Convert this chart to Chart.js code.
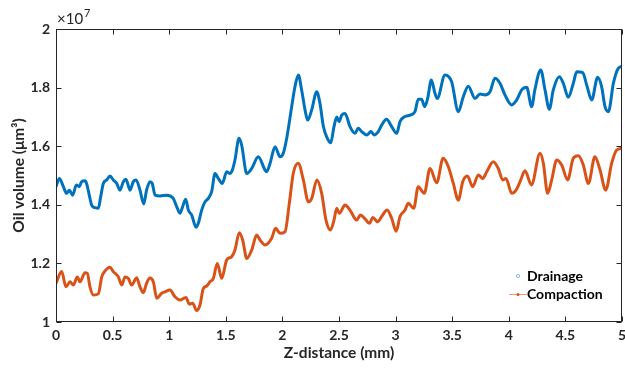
<!DOCTYPE html>
<html>
<head>
<meta charset="utf-8">
<script src="https://cdn.jsdelivr.net/npm/chart.js@4.4.1/dist/chart.umd.min.js"></script>
<style>
  html, body { margin: 0; padding: 0; background: #fff; }
</style>
</head>
<body>
<canvas id="chart" width="625" height="371"></canvas>
<script>
// values in units of 1e7 (um^3), x in mm
const drainageX = [0.000, 0.030, 0.065, 0.094, 0.118, 0.147, 0.180, 0.206, 0.227, 0.256, 0.270, 0.294, 0.315, 0.345, 0.374, 0.395, 0.418, 0.448, 0.477, 0.506,
  0.536, 0.565, 0.595, 0.618, 0.654, 0.683, 0.707, 0.742, 0.775, 0.800, 0.830, 0.850, 0.875, 0.919, 0.978, 1.036, 1.066, 1.095, 1.119, 1.146,
  1.169, 1.199, 1.237, 1.257, 1.287, 1.316, 1.346, 1.375, 1.405, 1.434, 1.469, 1.508, 1.537, 1.558, 1.581, 1.617, 1.640, 1.685, 1.729, 1.787,
  1.846, 1.861, 1.890, 1.935, 1.979, 2.008, 2.038, 2.082, 2.111, 2.141, 2.170, 2.200, 2.223, 2.259, 2.303, 2.332, 2.362, 2.397, 2.427, 2.456,
  2.480, 2.500, 2.524, 2.553, 2.597, 2.641, 2.670, 2.700, 2.745, 2.782, 2.810, 2.847, 2.877, 2.920, 2.965, 3.010, 3.039, 3.083, 3.127, 3.171,
  3.200, 3.230, 3.256, 3.283, 3.316, 3.348, 3.368, 3.436, 3.495, 3.554, 3.598, 3.642, 3.701, 3.746, 3.790, 3.834, 3.878, 3.922, 3.966, 4.026,
  4.070, 4.114, 4.158, 4.202, 4.230, 4.282, 4.320, 4.358, 4.393, 4.446, 4.481, 4.526, 4.570, 4.600, 4.653, 4.688, 4.732, 4.785, 4.820, 4.850,
  4.880, 4.924, 4.967, 5.000];
const drainageY = [1.462, 1.490, 1.462, 1.439, 1.450, 1.433, 1.468, 1.462, 1.479, 1.482, 1.473, 1.433, 1.399, 1.390, 1.388, 1.428, 1.473, 1.485, 1.498, 1.485,
  1.473, 1.450, 1.479, 1.487, 1.450, 1.479, 1.485, 1.450, 1.403, 1.450, 1.479, 1.473, 1.433, 1.430, 1.433, 1.422, 1.394, 1.371, 1.394, 1.419,
  1.382, 1.365, 1.323, 1.337, 1.382, 1.410, 1.422, 1.445, 1.507, 1.490, 1.473, 1.513, 1.507, 1.519, 1.553, 1.627, 1.604, 1.507, 1.524, 1.564,
  1.519, 1.513, 1.540, 1.598, 1.564, 1.576, 1.627, 1.735, 1.803, 1.843, 1.792, 1.724, 1.689, 1.724, 1.786, 1.746, 1.667, 1.627, 1.612, 1.667,
  1.700, 1.684, 1.706, 1.712, 1.667, 1.644, 1.661, 1.650, 1.638, 1.650, 1.638, 1.650, 1.672, 1.692, 1.667, 1.644, 1.684, 1.701, 1.706, 1.718,
  1.760, 1.760, 1.735, 1.763, 1.826, 1.780, 1.763, 1.843, 1.820, 1.718, 1.769, 1.805, 1.763, 1.778, 1.775, 1.786, 1.832, 1.815, 1.775, 1.741,
  1.758, 1.792, 1.801, 1.735, 1.792, 1.860, 1.792, 1.726, 1.792, 1.837, 1.815, 1.767, 1.815, 1.854, 1.851, 1.809, 1.758, 1.835, 1.803, 1.735,
  1.718, 1.815, 1.866, 1.872];

const compactionX = [0.000, 0.050, 0.088, 0.124, 0.153, 0.188, 0.212, 0.256, 0.277, 0.300, 0.330, 0.374, 0.404, 0.433, 0.477, 0.506, 0.551, 0.580, 0.610, 0.639,
  0.668, 0.713, 0.742, 0.771, 0.800, 0.830, 0.860, 0.890, 0.933, 0.963, 1.007, 1.051, 1.095, 1.148, 1.178, 1.207, 1.243, 1.272, 1.301, 1.331,
  1.360, 1.390, 1.425, 1.464, 1.508, 1.552, 1.581, 1.619, 1.649, 1.685, 1.729, 1.773, 1.802, 1.846, 1.905, 1.940, 1.979, 2.023, 2.061, 2.096,
  2.140, 2.185, 2.229, 2.259, 2.305, 2.347, 2.385, 2.425, 2.456, 2.480, 2.503, 2.553, 2.597, 2.656, 2.690, 2.730, 2.768, 2.800, 2.840, 2.880,
  2.925, 2.965, 3.005, 3.039, 3.083, 3.112, 3.160, 3.200, 3.253, 3.304, 3.363, 3.420, 3.466, 3.510, 3.554, 3.593, 3.634, 3.681, 3.731, 3.770,
  3.805, 3.863, 3.907, 3.946, 3.975, 4.026, 4.064, 4.100, 4.143, 4.200, 4.276, 4.305, 4.343, 4.379, 4.423, 4.467, 4.520, 4.570, 4.614, 4.658,
  4.703, 4.761, 4.806, 4.856, 4.909, 4.953, 5.000];
const compactionY = [1.132, 1.172, 1.120, 1.137, 1.126, 1.154, 1.137, 1.168, 1.166, 1.120, 1.092, 1.096, 1.154, 1.174, 1.187, 1.172, 1.154, 1.126, 1.154, 1.149,
  1.126, 1.151, 1.120, 1.100, 1.132, 1.150, 1.137, 1.081, 1.098, 1.103, 1.109, 1.086, 1.075, 1.084, 1.061, 1.064, 1.039, 1.058, 1.114, 1.123,
  1.137, 1.149, 1.200, 1.149, 1.212, 1.223, 1.246, 1.305, 1.280, 1.217, 1.246, 1.297, 1.280, 1.263, 1.286, 1.320, 1.303, 1.308, 1.405, 1.507,
  1.542, 1.485, 1.410, 1.422, 1.485, 1.439, 1.348, 1.314, 1.348, 1.388, 1.371, 1.399, 1.382, 1.348, 1.365, 1.352, 1.337, 1.357, 1.342, 1.362,
  1.382, 1.354, 1.310, 1.360, 1.382, 1.405, 1.388, 1.462, 1.439, 1.524, 1.475, 1.559, 1.530, 1.473, 1.416, 1.479, 1.498, 1.462, 1.502, 1.490,
  1.513, 1.547, 1.524, 1.485, 1.490, 1.439, 1.450, 1.479, 1.516, 1.468, 1.576, 1.542, 1.439, 1.485, 1.553, 1.536, 1.485, 1.559, 1.567, 1.536,
  1.473, 1.564, 1.519, 1.450, 1.542, 1.587, 1.593];

const xTicks = [0, 0.5, 1, 1.5, 2, 2.5, 3, 3.5, 4, 4.5, 5];
const yTicks = [1, 1.2, 1.4, 1.6, 1.8, 2];
const seriesNames = ['Drainage', 'Compaction'];

const blue = '#0072BD';
const orange = '#D95319';
const axisColor = '#262626';
const fontFamily = "Lato, 'Liberation Sans', sans-serif";

function toPoints(xs, ys) {
  return xs.map((x, i) => ({ x: x, y: ys[i] }));
}

// frame, inward ticks, exponent label and legend, MATLAB style
const matlabAxes = {
  id: 'matlabAxes',
  afterDraw(chart) {
    const ctx = chart.ctx;
    const a = chart.chartArea;
    const xs = chart.scales.x, ys = chart.scales.y;
    const L = Math.round(a.left) + 0.5, R = Math.round(a.right) - 0.5;
    const T = Math.round(a.top) + 0.5, B = Math.round(a.bottom) - 0.5;
    ctx.save();
    ctx.strokeStyle = axisColor;
    ctx.lineWidth = 1;
    ctx.strokeRect(L, T, R - L, B - T);
    ctx.beginPath();
    xTicks.forEach(v => {
      const px = Math.round(xs.getPixelForValue(v)) + 0.5;
      ctx.moveTo(px, B); ctx.lineTo(px, B - 5);
      ctx.moveTo(px, T); ctx.lineTo(px, T + 5);
    });
    yTicks.forEach(v => {
      const py = Math.round(ys.getPixelForValue(v)) + 0.5;
      ctx.moveTo(L, py); ctx.lineTo(L + 5, py);
      ctx.moveTo(R, py); ctx.lineTo(R - 5, py);
    });
    ctx.stroke();

    // x10^7 exponent
    ctx.fillStyle = axisColor;
    ctx.textBaseline = 'alphabetic';
    ctx.textAlign = 'left';
    ctx.font = '15px ' + fontFamily;
    ctx.fillText('\u00d710', 57, 24);
    const w = ctx.measureText('\u00d710').width;
    ctx.font = '11px ' + fontFamily;
    ctx.fillText('7', 57 + w + 1, 17);

    // legend
    const lx = 518, ly = [276, 294];
    ctx.font = 'bold 14px ' + fontFamily;
    ctx.textBaseline = 'middle';
    ctx.fillStyle = '#000';
    seriesNames.forEach((name, i) => ctx.fillText(name, 527, ly[i]));
    ctx.strokeStyle = '#7fb8de';
    ctx.lineWidth = 1;
    ctx.beginPath();
    ctx.arc(lx, ly[0], 1.6, 0, Math.PI * 2);
    ctx.stroke();
    ctx.strokeStyle = '#ec9a78';
    ctx.beginPath();
    ctx.moveTo(509, ly[1] + 0.5); ctx.lineTo(527, ly[1] + 0.5);
    ctx.stroke();
    ctx.fillStyle = orange;
    ctx.beginPath();
    ctx.arc(lx, ly[1] + 0.5, 1.5, 0, Math.PI * 2);
    ctx.fill();
    ctx.restore();
  }
};

new Chart(document.getElementById('chart'), {
  type: 'line',
  data: {
    datasets: [
      {
        label: seriesNames[0],
        data: toPoints(drainageX, drainageY),
        borderColor: blue,
        borderWidth: 3,
        pointRadius: 0,
        cubicInterpolationMode: 'monotone'
      },
      {
        label: seriesNames[1],
        data: toPoints(compactionX, compactionY),
        borderColor: orange,
        borderWidth: 3,
        pointRadius: 0,
        cubicInterpolationMode: 'monotone'
      }
    ]
  },
  options: {
    responsive: false,
    animation: false,
    devicePixelRatio: 1,
    layout: { padding: { top: 29, right: 3, left: 0, bottom: 0 } },
    plugins: { legend: { display: false }, tooltip: { enabled: false } },
    scales: {
      x: {
        type: 'linear',
        min: 0,
        max: 5,
        afterBuildTicks: s => { s.ticks = xTicks.map(v => ({ value: v })); },
        afterFit: s => { s.height = 49; s.paddingLeft = 0; s.paddingRight = 0; },
        grid: { display: false, drawTicks: false },
        border: { display: false },
        ticks: {
          color: axisColor,
          font: { family: fontFamily, size: 14, weight: 'bold' },
          padding: 5,
          maxRotation: 0,
          autoSkip: false,
          callback: v => String(v)
        },
        title: {
          display: true,
          text: 'Z-distance (mm)',
          color: axisColor,
          font: { family: fontFamily, size: 15.5, weight: 'bold' },
          padding: { top: 0, bottom: 9 }
        }
      },
      y: {
        type: 'linear',
        min: 1,
        max: 2,
        afterBuildTicks: s => { s.ticks = yTicks.map(v => ({ value: v })); },
        afterFit: s => { s.width = 56; },
        grid: { display: false, drawTicks: false },
        border: { display: false },
        ticks: {
          color: axisColor,
          font: { family: fontFamily, size: 14, weight: 'bold' },
          padding: 6,
          autoSkip: false,
          callback: v => String(+v.toFixed(1))
        },
        title: {
          display: true,
          text: 'Oil volume (\u03bcm\u00b3)',
          color: axisColor,
          font: { family: fontFamily, size: 15.5, weight: 'bold' },
          padding: { top: 10, bottom: 0 }
        }
      }
    }
  },
  plugins: [matlabAxes]
});
</script>
</body>
</html>
